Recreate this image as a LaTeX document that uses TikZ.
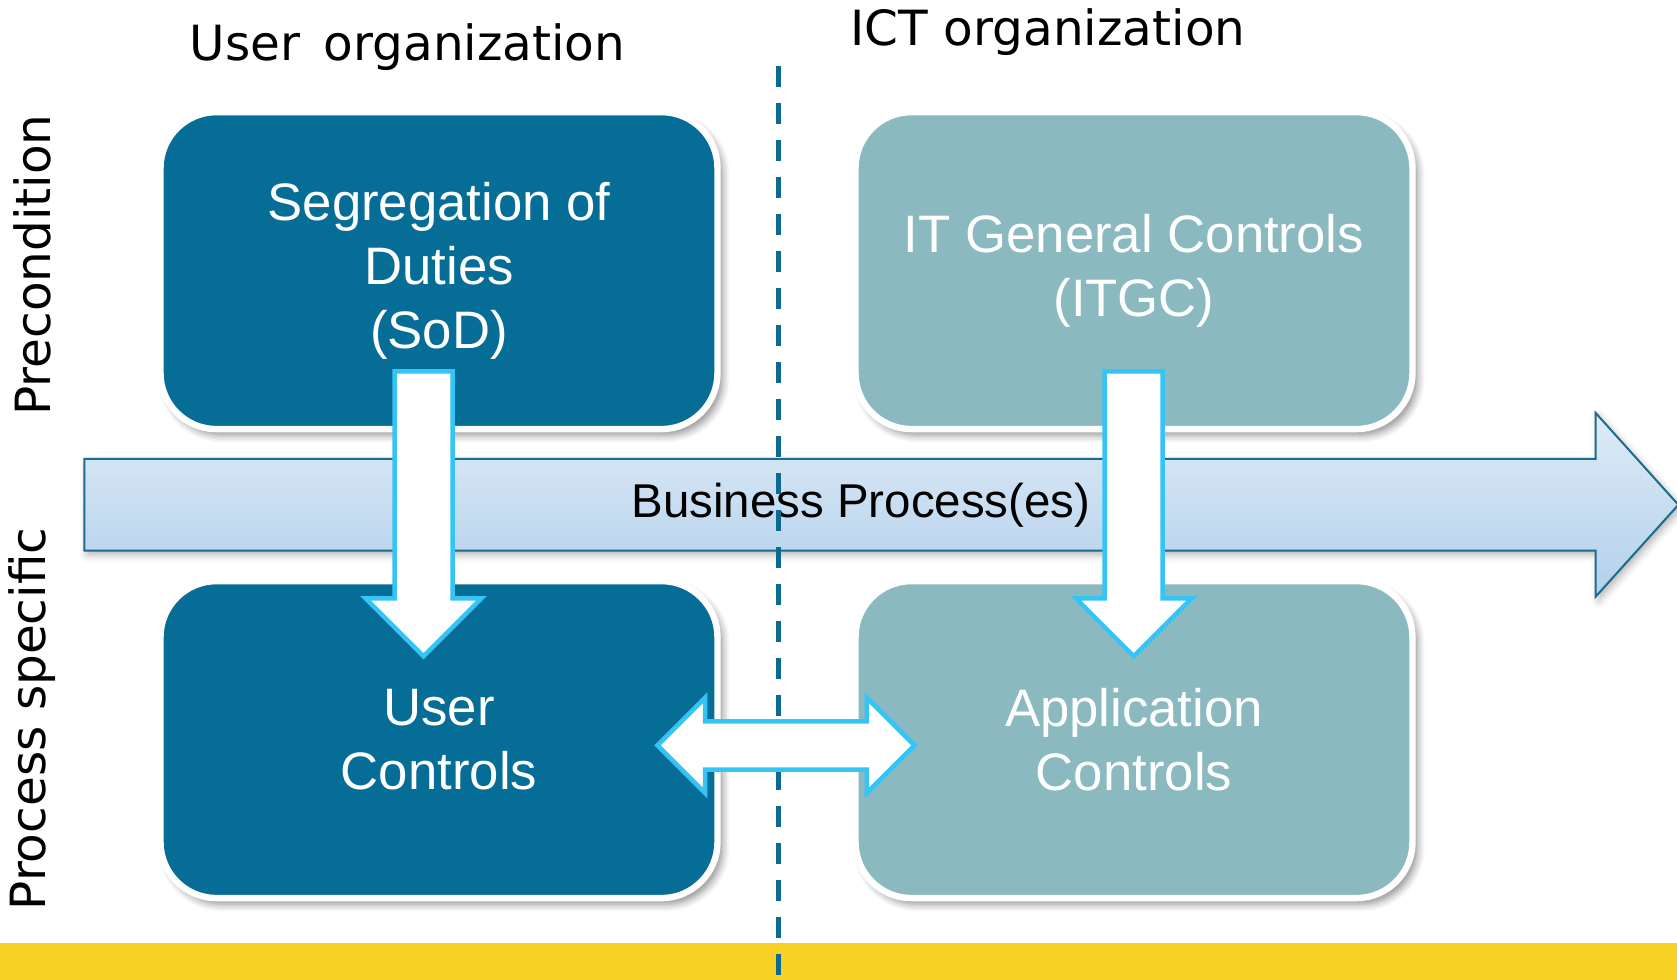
\documentclass[tikz,border=0pt]{standalone}
\usepackage{fontspec}
\setmainfont{Liberation Sans}
\newfontfamily\orgfont{DejaVu Sans}
\usetikzlibrary{shapes.arrows,positioning,shadows.blur}

\definecolor{userblue}{HTML}{066E96}
\definecolor{ictteal}{HTML}{8BB9C0}
\definecolor{arrowcyan}{HTML}{36C4F6}
\definecolor{procedge}{HTML}{1A6C8C}
\definecolor{proctop}{HTML}{DEEBF7}
\definecolor{procbottom}{HTML}{B2D0EB}
\definecolor{splitline}{HTML}{0B6A8D}
\definecolor{bandyellow}{HTML}{F9D125}

\begin{document}
\begin{tikzpicture}[x=0.1mm, y=-0.1mm,
  ctrlbox/.style={draw=white, line width=0.64mm, rounded corners=5.6mm, minimum width=55.7mm, minimum height=31.7mm, outer sep=0pt, align=center, text=white, font=\fontsize{15}{18.2}\selectfont, blur shadow={shadow xshift=0.5mm, shadow yshift=-0.6mm, shadow blur steps=6, shadow opacity=45}},
  userbox/.style={ctrlbox, fill=userblue},
  ictbox/.style={ctrlbox, fill=ictteal},
  orglabel/.style={font=\orgfont\fontsize{13.8}{16}\selectfont},
  bigarrow/.style={single arrow, draw=procedge, line width=0.2mm, top color=proctop, bottom color=procbottom, minimum height=159.4mm, inner xsep=0pt, inner ysep=4.49mm, single arrow head extend=4.6mm, single arrow tip angle=96, anchor=tail, blur shadow={shadow xshift=0.3mm, shadow yshift=-0.4mm, shadow opacity=30}},
  downarrow/.style={single arrow, draw=arrowcyan, fill=white, line width=0.45mm, minimum height=28.5mm, inner xsep=0pt, inner ysep=2.675mm, single arrow head extend=2.9mm, rotate=-90, anchor=tail},
  linkarrow/.style={double arrow, draw=arrowcyan, fill=white, line width=0.45mm, minimum height=25.7mm, inner xsep=0pt, inner ysep=2.19mm, double arrow head extend=2.35mm}
]
\useasboundingbox (0,0) rectangle (1677,980);

% bottom band
\fill[bandyellow] (0,943.3) rectangle (1677,980);

% headers
\node[orglabel] (userorg) at (407.5,47) {User\, organization};
\node[orglabel] (ictorg) at (1048,32) {ICT organization};
\node[orglabel, rotate=90] (precond) at (32,265) {Precondition};
\node[orglabel, rotate=90] (procspec) at (32,719) {Process specific};

% control boxes
\node[userbox] (sod) at (439,270.6) {Segregation of\\Duties\\(SoD)};
\node[ictbox, right=13.8mm of sod] (itgc) {IT General Controls\\(ITGC)};
\node[userbox, below=15.2mm of sod] (userctrl) {User\\Controls};
\node[ictbox, below=15.2mm of itgc] (appctrl) {Application\\Controls};

% business process arrow
\node[bigarrow] (bizproc) at (83.4,504.8) {};
\node[font=\fontsize{13.5}{16}\selectfont] (bizlabel) at (861,505) {Business Process(es)};

% split between organizations
\coordinate (splittop) at (778.6,66.3);
\coordinate (splitbot) at (778.6,980);
\draw[splitline, line width=0.45mm, dash pattern=on 2.1mm off 1.6mm] (splittop) -- (splitbot);

% arrows between controls
\node[downarrow] (sodflow) at (423.5,369) {};
\node[downarrow] (itgcflow) at (1133.7,369) {};
\node[linkarrow] (ctrllink) at (786,745.4) {};

\end{tikzpicture}
\end{document}
